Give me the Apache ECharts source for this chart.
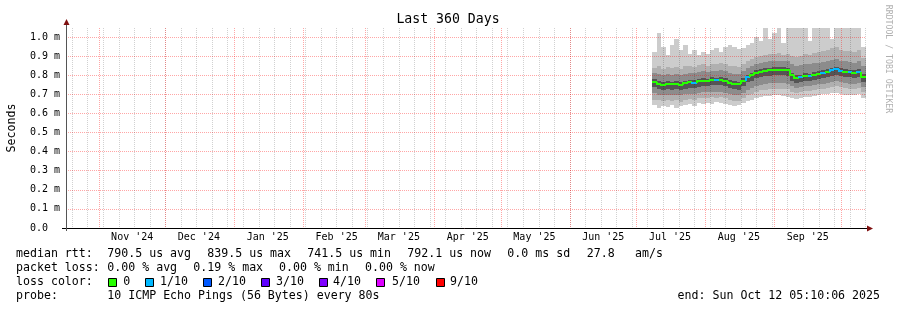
<!DOCTYPE html>
<html><head><meta charset="utf-8">
<script src="https://cdn.jsdelivr.net/npm/echarts@6/dist/echarts.min.js"></script>
<style>html,body{margin:0;padding:0;background:#fff}#c{width:897px;height:310px}</style>
</head><body><div id="c"></div><script>
// ---------- data ----------
// start of each 2-day bin
const binDates = ['2025-07-08','2025-07-10','2025-07-12','2025-07-14','2025-07-16','2025-07-18','2025-07-20','2025-07-22','2025-07-24','2025-07-26','2025-07-28','2025-07-30',
 '2025-08-01','2025-08-03','2025-08-05','2025-08-07','2025-08-09','2025-08-11','2025-08-13','2025-08-15','2025-08-17','2025-08-19','2025-08-21','2025-08-23','2025-08-25','2025-08-27','2025-08-29','2025-08-31',
 '2025-09-02','2025-09-04','2025-09-06','2025-09-08','2025-09-10','2025-09-12','2025-09-14','2025-09-16','2025-09-18','2025-09-20','2025-09-22','2025-09-24','2025-09-26','2025-09-28','2025-09-30',
 '2025-10-02','2025-10-04','2025-10-06','2025-10-08','2025-10-10'];
const binDays = 2;
// median rtt (ms)
const median = [0.765,0.755,0.750,0.755,0.752,0.755,0.750,0.758,0.762,0.760,0.768,0.772,0.770,0.776,0.774,0.776,0.770,0.760,0.756,0.752,0.770,0.790,0.800,0.812,0.818,0.822,0.826,0.828,0.828,0.828,0.826,0.800,0.786,0.790,0.796,0.795,0.802,0.808,0.812,0.818,0.826,0.830,0.822,0.818,0.816,0.812,0.818,0.792];
// smoke band edges (ms), outer to inner
const lo1 = [0.645,0.630,0.640,0.632,0.645,0.628,0.638,0.642,0.650,0.640,0.652,0.648,0.655,0.650,0.658,0.652,0.650,0.645,0.640,0.642,0.652,0.664,0.672,0.682,0.688,0.690,0.692,0.696,0.694,0.690,0.688,0.680,0.676,0.680,0.688,0.686,0.692,0.696,0.700,0.702,0.708,0.706,0.700,0.698,0.696,0.694,0.700,0.680];
const lo2 = [0.672,0.668,0.664,0.668,0.665,0.668,0.662,0.670,0.674,0.672,0.678,0.682,0.680,0.684,0.682,0.684,0.678,0.670,0.666,0.664,0.678,0.694,0.704,0.714,0.720,0.724,0.728,0.730,0.730,0.728,0.726,0.714,0.708,0.712,0.718,0.718,0.722,0.726,0.730,0.734,0.740,0.742,0.736,0.732,0.730,0.728,0.732,0.712];
const lo3 = [0.705,0.698,0.694,0.698,0.695,0.698,0.694,0.700,0.704,0.702,0.708,0.712,0.710,0.714,0.712,0.714,0.708,0.700,0.696,0.694,0.708,0.724,0.734,0.744,0.750,0.754,0.758,0.760,0.760,0.758,0.756,0.742,0.734,0.738,0.744,0.744,0.748,0.752,0.756,0.760,0.766,0.768,0.762,0.758,0.756,0.754,0.758,0.738];
const lo4 = [0.737,0.727,0.722,0.727,0.724,0.726,0.722,0.730,0.734,0.732,0.740,0.744,0.742,0.748,0.746,0.748,0.742,0.732,0.728,0.724,0.742,0.762,0.772,0.784,0.790,0.794,0.798,0.800,0.800,0.800,0.798,0.772,0.758,0.762,0.768,0.767,0.774,0.780,0.784,0.790,0.798,0.802,0.794,0.790,0.788,0.784,0.790,0.764];
const hi4 = [0.778,0.768,0.763,0.767,0.765,0.768,0.762,0.771,0.774,0.773,0.780,0.785,0.782,0.789,0.786,0.789,0.783,0.773,0.768,0.765,0.783,0.803,0.813,0.826,0.831,0.836,0.839,0.842,0.841,0.842,0.839,0.814,0.799,0.803,0.810,0.808,0.815,0.822,0.825,0.832,0.839,0.844,0.835,0.831,0.829,0.826,0.831,0.806];
const hi3 = [0.810,0.805,0.800,0.806,0.802,0.806,0.800,0.808,0.812,0.810,0.818,0.822,0.818,0.824,0.822,0.826,0.820,0.812,0.808,0.806,0.822,0.840,0.850,0.860,0.866,0.870,0.872,0.874,0.876,0.874,0.872,0.856,0.848,0.852,0.858,0.856,0.862,0.866,0.870,0.874,0.880,0.884,0.876,0.872,0.870,0.866,0.872,0.848];
const hi2 = [0.840,0.848,0.830,0.842,0.836,0.845,0.832,0.846,0.850,0.842,0.852,0.858,0.850,0.856,0.860,0.862,0.856,0.850,0.846,0.844,0.860,0.876,0.886,0.896,0.902,0.906,0.910,0.912,0.916,0.908,0.912,0.900,0.894,0.898,0.910,0.904,0.916,0.922,0.926,0.930,0.940,0.946,0.930,0.926,0.924,0.920,0.930,0.890];
const hi1 = [0.920,1.020,0.950,0.905,0.960,0.990,0.930,0.960,0.910,0.930,0.905,0.920,0.910,0.930,0.940,0.920,0.950,0.960,0.950,0.935,0.940,0.960,0.970,1.000,0.980,1.050,0.990,1.020,1.050,0.970,1.050,1.050,1.050,1.050,1.050,0.980,1.050,1.050,1.050,1.050,0.990,1.050,1.050,1.050,1.050,1.050,1.050,0.950];
// lost pings out of 10 per bin
const loss = [0,0,0,0,0,0,0,0,0,1,0,0,0,0,1,0,0,0,0,0,0,1,0,0,0,0,0,0,0,0,0,0,0,1,0,1,0,0,1,0,1,1,1,0,1,0,1,0];
// axis ticks
const yTicks = [0,0.1,0.2,0.3,0.4,0.5,0.6,0.7,0.8,0.9,1.0];
const monthStarts = ['2024-11-01','2024-12-01','2025-01-01','2025-02-01','2025-03-01','2025-04-01','2025-05-01','2025-06-01','2025-07-01','2025-08-01','2025-09-01','2025-10-01'];
const monthLabels = ["Nov '24","Dec '24","Jan '25","Feb '25","Mar '25","Apr '25","May '25","Jun '25","Jul '25","Aug '25","Sep '25"];
const firstWeekLine = '2024-10-20';
// legend
const lossLegendNames = ['0','1/10','2/10','3/10','4/10','5/10','9/10'];
const lossLegendColors = ['#26ff00','#00b8ff','#0059ff','#5e00ff','#7e00ff','#dd00ff','#ff0000'];
const lossColorByCount = {0:'#26ff00',1:'#00b8ff',2:'#0059ff',3:'#5e00ff',4:'#7e00ff',5:'#dd00ff',9:'#ff0000'};

// ---------- chart ----------
const MONO = '"DejaVu Sans Mono", monospace';
const DAY = 86400000;
const BIN = binDays * DAY;
const tsOf = s => { const [y,m,d] = s.split('-').map(Number); return new Date(y, m-1, d).getTime(); };
const endTs = new Date(2025,9,12,5,10,6).getTime();
const startTs = endTs - 360*DAY;
const binTs = binDates.map(tsOf);
const monthTs = monthStarts.map(tsOf);
const labelTs = monthTs.slice(0, monthLabels.length).map(t => t + 15*DAY);
const weekTs = [];
for (let t = tsOf(firstWeekLine); t < endTs; t += 7*DAY) weekTs.push(t);

const bandColors = [null,'#cccccc','#b0b0b0','#8c8c8c','#555555','#8c8c8c','#b0b0b0','#cccccc'];
const smokeData = binTs.map((t,k) => [t, lo1[k], lo2[k], lo3[k], lo4[k], hi4[k], hi3[k], hi2[k], hi1[k]]);
const medianData = binTs.map((t,k) => [t, median[k], loss[k]]);

const series = [{
  type:'custom', coordinateSystem:'cartesian2d', clip:true, silent:true, z:2,
  encode:{x:0, y:[1,2,3,4,5,6,7,8]},
  renderItem:(params, api) => {
    const t = api.value(0);
    const top = params.coordSys.y;
    const xa = Math.round(api.coord([t, 0])[0]);
    const xb = Math.round(api.coord([t + BIN, 0])[0]);
    const children = [];
    for (let j = 1; j < 8; j++) {
      const ya = Math.max(top, Math.round(api.coord([t, api.value(j)])[1]));
      const yb = Math.max(top, Math.round(api.coord([t, api.value(j+1)])[1]));
      if (ya > yb) children.push({type:'rect', shape:{x:xa, y:yb, width:xb-xa, height:ya-yb}, style:{fill:bandColors[j]}});
    }
    return {type:'group', children};
  },
  data: smokeData
}, {
  type:'custom', coordinateSystem:'cartesian2d', clip:true, silent:true, z:5,
  encode:{x:0, y:1},
  renderItem:(params, api) => {
    const i = params.dataIndexInside;
    const t = api.value(0);
    const xa = Math.round(api.coord([t, 0])[0]);
    const xb = Math.round(api.coord([t + BIN, 0])[0]);
    const y = Math.round(api.coord([t, api.value(1)])[1]);
    const pts = [];
    if (i > 0) pts.push([xa, Math.round(api.coord([t, api.value(1, i-1)])[1])]);
    pts.push([xa, y], [xb, y]);
    return {type:'polyline', shape:{points:pts}, style:{stroke:lossColorByCount[api.value(2)], lineWidth:2, fill:null}};
  },
  data: medianData
}];

const majorGrid = {color:'rgba(255,0,0,0.35)', width:1, type:[1,1]};
const minorGrid = {color:'rgba(0,0,0,0.18)', width:1, type:[1,1]};

const graphic = [];
const txt = (x, y, text, extra) => graphic.push(Object.assign({type:'text', x, y, silent:true, z:20,
  style:Object.assign({text, font:'11.6px ' + MONO, fill:'#000', textVerticalAlign:'middle'}, extra||{})}));
txt(448, 20, 'Last 360 Days', {font:'13.2px ' + MONO, textAlign:'center'});
txt(16, 254, 'median rtt:');
txt(107.3, 254, '790.5 us avg');
txt(207.3, 254, '839.5 us max');
txt(307.3, 254, '741.5 us min');
txt(407.3, 254, '792.1 us now');
txt(507.3, 254, '0.0 ms sd');
txt(586.7, 254, '27.8');
txt(635, 254, 'am/s');
txt(16, 268, 'packet loss:');
txt(107.3, 268, '0.00 % avg');
txt(193.3, 268, '0.19 % max');
txt(279, 268, '0.00 % min');
txt(365, 268, '0.00 % now');
txt(16, 282, 'loss color:');
const sqX = [108.5,145.5,203.5,261.5,319.5,376.5,436.5];
const lbX = [123.3,160,218,276,333,392,450];
lossLegendNames.forEach((n,i) => {
  graphic.push({type:'rect', silent:true, z:20, shape:{x:sqX[i], y:278.5, width:8, height:8},
    style:{fill:lossLegendColors[i], stroke:'#000', lineWidth:1}});
  txt(lbX[i], 282, n);
});
txt(16, 296, 'probe:');
txt(107.3, 296, '10 ICMP Echo Pings (56 Bytes) every 80s');
txt(880, 296, 'end: Sun Oct 12 05:10:06 2025', {textAlign:'right'});
graphic.push({type:'text', x:888, y:59, rotation:-Math.PI/2, silent:true, z:20,
  style:{text:'RRDTOOL / TOBI OETIKER', font:'8.2px ' + MONO, fill:'#b0b0b0', textAlign:'center', textVerticalAlign:'middle'}});
graphic.push({type:'line', silent:true, z:20, shape:{x1:62, y1:228.5, x2:867, y2:228.5}, style:{stroke:'#000', lineWidth:1}});
graphic.push({type:'line', silent:true, z:20, shape:{x1:66.5, y1:231, x2:66.5, y2:24}, style:{stroke:'#555', lineWidth:1}});
graphic.push({type:'polygon', silent:true, z:21, shape:{points:[[867,225.5],[873,228.5],[867,231.5]]}, style:{fill:'#7f1010'}});
graphic.push({type:'polygon', silent:true, z:21, shape:{points:[[63.5,25],[66.5,19],[69.5,25]]}, style:{fill:'#7f1010'}});

const baseX = {type:'value', gridIndex:0, min:startTs, max:endTs};
const option = {
  animation:false,
  backgroundColor:'#fff',
  grid:{left:66, top:28, width:800, height:200, containLabel:false, outerBoundsMode:'none'},
  xAxis:[
    Object.assign({}, baseX, {
      z:4,
      axisLine:{show:false},
      axisTick:{show:false, customValues:labelTs},
      axisLabel:{customValues:labelTs, formatter:v => monthLabels[labelTs.indexOf(v)] || '', fontFamily:MONO, fontSize:10, color:'#000', margin:4, hideOverlap:false},
      splitLine:{show:false}
    }),
    Object.assign({}, baseX, {
      z:3, position:'bottom',
      axisLine:{show:false}, axisLabel:{show:false},
      axisTick:{show:false, customValues:weekTs},
      splitLine:{show:true, lineStyle:minorGrid}
    }),
    Object.assign({}, baseX, {
      z:3, position:'bottom',
      axisLine:{show:false}, axisLabel:{show:false},
      axisTick:{show:false, customValues:monthTs},
      splitLine:{show:true, lineStyle:Object.assign({}, majorGrid)}
    })
  ],
  yAxis:{
    type:'value', min:0, max:1.047, z:3,
    name:'Seconds', nameLocation:'middle', nameRotate:90, nameGap:48,
    nameTextStyle:{fontFamily:MONO, fontSize:11.6, color:'#000'},
    axisLine:{show:false},
    axisTick:{show:false, customValues:yTicks},
    axisLabel:{customValues:yTicks, formatter:v => v === 0 ? '0.0  ' : v.toFixed(1) + ' m', fontFamily:MONO, fontSize:10, color:'#000', margin:6},
    splitLine:{show:true, lineStyle:Object.assign({}, majorGrid)}
  },
  series,
  graphic
};
const chart = echarts.init(document.getElementById('c'));
chart.setOption(option);
</script></body></html>
